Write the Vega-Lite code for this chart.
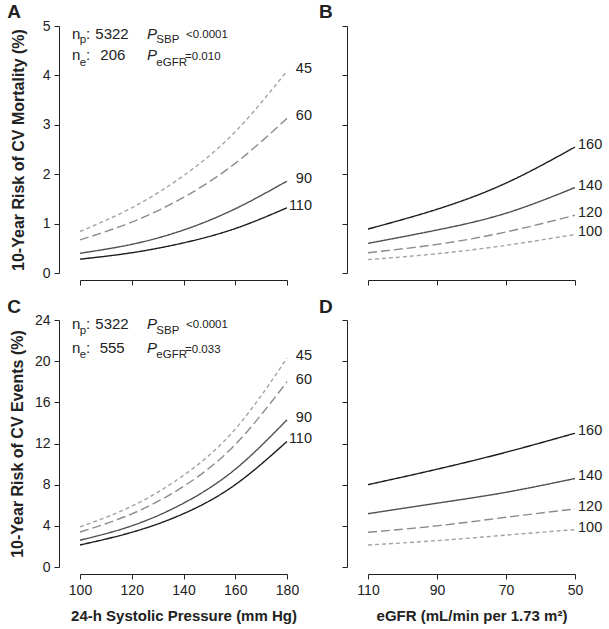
{
  "$schema": "https://vega.github.io/schema/vega-lite/v6.json",
  "padding": {"left": 7, "top": 2, "right": 4, "bottom": 2},
  "background": "white",
  "config": {
    "view": {"stroke": null},
    "font": "Liberation Sans",
    "axis": {
      "grid": false,
      "labelFlush": false,
      "labelOverlap": false,
      "domainColor": "#222222",
      "tickColor": "#222222",
      "labelColor": "#222222",
      "titleColor": "#222222",
      "labelFont": "Liberation Sans",
      "titleFont": "Liberation Sans",
      "labelFontSize": 14,
      "titleFontSize": 16,
      "titleFontWeight": "bold",
      "tickSize": 5,
      "labelPadding": 4,
      "domainWidth": 1,
      "tickWidth": 1
    },
    "text": {"font": "Liberation Sans", "color": "#222222"}
  },
  "datasets": {
    "curves": [
      {"panel": "A", "series": "45", "x": 100, "y": 0.84},
      {"panel": "A", "series": "45", "x": 120, "y": 1.32},
      {"panel": "A", "series": "45", "x": 140, "y": 1.97},
      {"panel": "A", "series": "45", "x": 160, "y": 2.86},
      {"panel": "A", "series": "45", "x": 180, "y": 4.09},
      {"panel": "A", "series": "60", "x": 100, "y": 0.67},
      {"panel": "A", "series": "60", "x": 120, "y": 1.03},
      {"panel": "A", "series": "60", "x": 140, "y": 1.53},
      {"panel": "A", "series": "60", "x": 160, "y": 2.22},
      {"panel": "A", "series": "60", "x": 180, "y": 3.13},
      {"panel": "A", "series": "90", "x": 100, "y": 0.40},
      {"panel": "A", "series": "90", "x": 120, "y": 0.58},
      {"panel": "A", "series": "90", "x": 140, "y": 0.87},
      {"panel": "A", "series": "90", "x": 160, "y": 1.30},
      {"panel": "A", "series": "90", "x": 180, "y": 1.86},
      {"panel": "A", "series": "110", "x": 100, "y": 0.28},
      {"panel": "A", "series": "110", "x": 120, "y": 0.41},
      {"panel": "A", "series": "110", "x": 140, "y": 0.61},
      {"panel": "A", "series": "110", "x": 160, "y": 0.90},
      {"panel": "A", "series": "110", "x": 180, "y": 1.32},
      {"panel": "B", "series": "160", "x": 110, "y": 0.89},
      {"panel": "B", "series": "160", "x": 90, "y": 1.29},
      {"panel": "B", "series": "160", "x": 70, "y": 1.82},
      {"panel": "B", "series": "160", "x": 50, "y": 2.55},
      {"panel": "B", "series": "140", "x": 110, "y": 0.60},
      {"panel": "B", "series": "140", "x": 90, "y": 0.87},
      {"panel": "B", "series": "140", "x": 70, "y": 1.21},
      {"panel": "B", "series": "140", "x": 50, "y": 1.73},
      {"panel": "B", "series": "120", "x": 110, "y": 0.41},
      {"panel": "B", "series": "120", "x": 90, "y": 0.58},
      {"panel": "B", "series": "120", "x": 70, "y": 0.83},
      {"panel": "B", "series": "120", "x": 50, "y": 1.17},
      {"panel": "B", "series": "100", "x": 110, "y": 0.27},
      {"panel": "B", "series": "100", "x": 90, "y": 0.39},
      {"panel": "B", "series": "100", "x": 70, "y": 0.56},
      {"panel": "B", "series": "100", "x": 50, "y": 0.78},
      {"panel": "C", "series": "45", "x": 100, "y": 3.9},
      {"panel": "C", "series": "45", "x": 120, "y": 5.9},
      {"panel": "C", "series": "45", "x": 140, "y": 8.9},
      {"panel": "C", "series": "45", "x": 160, "y": 13.4},
      {"panel": "C", "series": "45", "x": 180, "y": 20.3},
      {"panel": "C", "series": "60", "x": 100, "y": 3.4},
      {"panel": "C", "series": "60", "x": 120, "y": 5.16},
      {"panel": "C", "series": "60", "x": 140, "y": 7.83},
      {"panel": "C", "series": "60", "x": 160, "y": 11.9},
      {"panel": "C", "series": "60", "x": 180, "y": 18.0},
      {"panel": "C", "series": "90", "x": 100, "y": 2.6},
      {"panel": "C", "series": "90", "x": 120, "y": 4.0},
      {"panel": "C", "series": "90", "x": 140, "y": 6.2},
      {"panel": "C", "series": "90", "x": 160, "y": 9.5},
      {"panel": "C", "series": "90", "x": 180, "y": 14.3},
      {"panel": "C", "series": "110", "x": 100, "y": 2.14},
      {"panel": "C", "series": "110", "x": 120, "y": 3.37},
      {"panel": "C", "series": "110", "x": 140, "y": 5.18},
      {"panel": "C", "series": "110", "x": 160, "y": 8.0},
      {"panel": "C", "series": "110", "x": 180, "y": 12.2},
      {"panel": "D", "series": "160", "x": 110, "y": 8.0},
      {"panel": "D", "series": "160", "x": 90, "y": 9.5},
      {"panel": "D", "series": "160", "x": 70, "y": 11.15},
      {"panel": "D", "series": "160", "x": 50, "y": 13.0},
      {"panel": "D", "series": "140", "x": 110, "y": 5.18},
      {"panel": "D", "series": "140", "x": 90, "y": 6.2},
      {"panel": "D", "series": "140", "x": 70, "y": 7.26},
      {"panel": "D", "series": "140", "x": 50, "y": 8.6},
      {"panel": "D", "series": "120", "x": 110, "y": 3.37},
      {"panel": "D", "series": "120", "x": 90, "y": 4.0},
      {"panel": "D", "series": "120", "x": 70, "y": 4.83},
      {"panel": "D", "series": "120", "x": 50, "y": 5.64},
      {"panel": "D", "series": "100", "x": 110, "y": 2.14},
      {"panel": "D", "series": "100", "x": 90, "y": 2.56},
      {"panel": "D", "series": "100", "x": 70, "y": 3.1},
      {"panel": "D", "series": "100", "x": 50, "y": 3.63}
    ],
    "notes": [
      {"panel": "A", "kind": "main", "x": 96.91, "y": 4.743, "text": "n"},
      {"panel": "A", "kind": "small", "x": 99.88, "y": 4.646, "text": "p"},
      {"panel": "A", "kind": "main", "x": 102.32, "y": 4.743, "text": ":"},
      {"panel": "A", "kind": "main", "x": 105.91, "y": 4.743, "text": "5322"},
      {"panel": "A", "kind": "italic", "x": 125.89, "y": 4.743, "text": "P"},
      {"panel": "A", "kind": "small", "x": 129.49, "y": 4.646, "text": "SBP"},
      {"panel": "A", "kind": "small", "x": 140.97, "y": 4.767, "text": "<0.0001"},
      {"panel": "A", "kind": "main", "x": 96.91, "y": 4.306, "text": "n"},
      {"panel": "A", "kind": "small", "x": 99.88, "y": 4.2, "text": "e"},
      {"panel": "A", "kind": "main", "x": 102.32, "y": 4.306, "text": ":"},
      {"panel": "A", "kind": "main", "x": 107.85, "y": 4.306, "text": "206"},
      {"panel": "A", "kind": "italic", "x": 125.89, "y": 4.306, "text": "P"},
      {"panel": "A", "kind": "small", "x": 129.49, "y": 4.2, "text": "eGFR"},
      {"panel": "A", "kind": "small", "x": 140.6, "y": 4.306, "text": "=0.010"},
      {"panel": "C", "kind": "main", "x": 96.91, "y": 23.1, "text": "n"},
      {"panel": "C", "kind": "small", "x": 99.88, "y": 22.64, "text": "p"},
      {"panel": "C", "kind": "main", "x": 102.32, "y": 23.1, "text": ":"},
      {"panel": "C", "kind": "main", "x": 105.91, "y": 23.1, "text": "5322"},
      {"panel": "C", "kind": "italic", "x": 125.89, "y": 23.1, "text": "P"},
      {"panel": "C", "kind": "small", "x": 129.49, "y": 22.64, "text": "SBP"},
      {"panel": "C", "kind": "small", "x": 140.97, "y": 23.2, "text": "<0.0001"},
      {"panel": "C", "kind": "main", "x": 96.91, "y": 20.79, "text": "n"},
      {"panel": "C", "kind": "small", "x": 99.88, "y": 20.31, "text": "e"},
      {"panel": "C", "kind": "main", "x": 102.32, "y": 20.79, "text": ":"},
      {"panel": "C", "kind": "main", "x": 107.6, "y": 20.79, "text": "555"},
      {"panel": "C", "kind": "italic", "x": 125.89, "y": 20.79, "text": "P"},
      {"panel": "C", "kind": "small", "x": 129.49, "y": 20.31, "text": "eGFR"},
      {"panel": "C", "kind": "small", "x": 140.6, "y": 20.79, "text": "=0.033"}
    ],
    "letters": [
      {"panel": "A", "x": 71.9, "y": 5.168, "text": "A"},
      {"panel": "B", "x": 124.2, "y": 5.168, "text": "B"},
      {"panel": "C", "x": 71.9, "y": 24.71, "text": "C"},
      {"panel": "D", "x": 124.2, "y": 24.71, "text": "D"}
    ]
  },
  "columns": 2,
  "bounds": "flush",
  "spacing": {"row": 47, "column": 81},
  "concat": [
    {
      "width": 207,
      "height": 247,
      "encoding": {
        "x": {"field": "x", "type": "quantitative", "scale": {"domain": [100, 180], "nice": false, "zero": false}, "axis": {"values": [100, 120, 140, 160, 180], "labels": false, "title": null, "offset": 7}},
        "y": {"field": "y", "type": "quantitative", "scale": {"domain": [0, 5], "nice": false, "zero": false}, "axis": {"values": [0, 1, 2, 3, 4, 5], "title": "10-Year Risk of CV Mortality (%)", "offset": 21, "titlePadding": 16}}
      },
      "layer": [
        {
          "data": {"name": "curves"},
          "transform": [{"filter": "datum.panel == 'A'"}],
          "mark": {"type": "line", "interpolate": "natural", "strokeWidth": 1.4},
          "encoding": {
            "detail": {"field": "series", "type": "nominal"},
            "color": {"field": "series", "type": "nominal", "legend": null, "scale": {"domain": ["45", "60", "90", "110", "100", "120", "140", "160"], "range": ["#a3a3a3", "#8c8c8c", "#505050", "#1c1c1c", "#a3a3a3", "#8c8c8c", "#505050", "#1c1c1c"]}},
            "strokeDash": {"field": "series", "type": "nominal", "legend": null, "scale": {"domain": ["45", "60", "90", "110", "100", "120", "140", "160"], "range": [[4, 3], [9, 4], [1, 0], [1, 0], [4, 3], [9, 4], [1, 0], [1, 0]]}}
          }
        },
        {
          "data": {"name": "curves"},
          "transform": [{"filter": "datum.panel == 'A' && datum.x == 180"}],
          "mark": {"type": "text", "align": "right", "baseline": "middle", "dx": 25, "dy": -2, "fontSize": 14.5},
          "encoding": {"text": {"field": "series"}}
        },
        {
          "data": {"name": "notes"},
          "transform": [{"filter": "datum.panel == 'A' && datum.kind == 'main'"}],
          "mark": {"type": "text", "align": "left", "baseline": "alphabetic", "fontSize": 15},
          "encoding": {"text": {"field": "text"}}
        },
        {
          "data": {"name": "notes"},
          "transform": [{"filter": "datum.panel == 'A' && datum.kind == 'italic'"}],
          "mark": {"type": "text", "align": "left", "baseline": "alphabetic", "fontSize": 15, "fontStyle": "italic"},
          "encoding": {"text": {"field": "text"}}
        },
        {
          "data": {"name": "notes"},
          "transform": [{"filter": "datum.panel == 'A' && datum.kind == 'small'"}],
          "mark": {"type": "text", "align": "left", "baseline": "alphabetic", "fontSize": 11.5},
          "encoding": {"text": {"field": "text"}}
        },
        {
          "data": {"name": "letters"},
          "transform": [{"filter": "datum.panel == 'A'"}],
          "mark": {"type": "text", "align": "left", "baseline": "alphabetic", "fontSize": 19, "fontWeight": "bold"},
          "encoding": {"text": {"field": "text"}}
        }
      ]
    },
    {
      "width": 207,
      "height": 247,
      "encoding": {
        "x": {"field": "x", "type": "quantitative", "scale": {"domain": [50, 110], "nice": false, "zero": false, "reverse": true}, "axis": {"values": [50, 70, 90, 110], "labels": false, "title": null, "offset": 7}},
        "y": {"field": "y", "type": "quantitative", "scale": {"domain": [0, 5], "nice": false, "zero": false}, "axis": {"values": [0, 1, 2, 3, 4, 5], "labels": false, "title": null, "offset": 21}}
      },
      "layer": [
        {
          "data": {"name": "curves"},
          "transform": [{"filter": "datum.panel == 'B'"}],
          "mark": {"type": "line", "interpolate": "natural", "strokeWidth": 1.4},
          "encoding": {
            "detail": {"field": "series", "type": "nominal"},
            "color": {"field": "series", "type": "nominal", "legend": null, "scale": {"domain": ["45", "60", "90", "110", "100", "120", "140", "160"], "range": ["#a3a3a3", "#8c8c8c", "#505050", "#1c1c1c", "#a3a3a3", "#8c8c8c", "#505050", "#1c1c1c"]}},
            "strokeDash": {"field": "series", "type": "nominal", "legend": null, "scale": {"domain": ["45", "60", "90", "110", "100", "120", "140", "160"], "range": [[4, 3], [9, 4], [1, 0], [1, 0], [4, 3], [9, 4], [1, 0], [1, 0]]}}
          }
        },
        {
          "data": {"name": "curves"},
          "transform": [{"filter": "datum.panel == 'B' && datum.x == 50"}],
          "mark": {"type": "text", "align": "left", "baseline": "middle", "dx": 3, "dy": -2, "fontSize": 14.5},
          "encoding": {"text": {"field": "series"}}
        },
        {
          "data": {"name": "letters"},
          "transform": [{"filter": "datum.panel == 'B'"}],
          "mark": {"type": "text", "align": "left", "baseline": "alphabetic", "fontSize": 19, "fontWeight": "bold"},
          "encoding": {"text": {"field": "text"}}
        }
      ]
    },
    {
      "width": 207,
      "height": 247,
      "encoding": {
        "x": {"field": "x", "type": "quantitative", "scale": {"domain": [100, 180], "nice": false, "zero": false}, "axis": {"values": [100, 120, 140, 160, 180], "title": "24-h Systolic Pressure (mm Hg)", "titleFontSize": 15, "offset": 7, "titlePadding": 11}},
        "y": {"field": "y", "type": "quantitative", "scale": {"domain": [0, 24], "nice": false, "zero": false}, "axis": {"values": [0, 4, 8, 12, 16, 20, 24], "title": "10-Year Risk of CV Events (%)", "offset": 21, "titlePadding": 9}}
      },
      "layer": [
        {
          "data": {"name": "curves"},
          "transform": [{"filter": "datum.panel == 'C'"}],
          "mark": {"type": "line", "interpolate": "natural", "strokeWidth": 1.4},
          "encoding": {
            "detail": {"field": "series", "type": "nominal"},
            "color": {"field": "series", "type": "nominal", "legend": null, "scale": {"domain": ["45", "60", "90", "110", "100", "120", "140", "160"], "range": ["#a3a3a3", "#8c8c8c", "#505050", "#1c1c1c", "#a3a3a3", "#8c8c8c", "#505050", "#1c1c1c"]}},
            "strokeDash": {"field": "series", "type": "nominal", "legend": null, "scale": {"domain": ["45", "60", "90", "110", "100", "120", "140", "160"], "range": [[4, 3], [9, 4], [1, 0], [1, 0], [4, 3], [9, 4], [1, 0], [1, 0]]}}
          }
        },
        {
          "data": {"name": "curves"},
          "transform": [{"filter": "datum.panel == 'C' && datum.x == 180"}],
          "mark": {"type": "text", "align": "right", "baseline": "middle", "dx": 25, "dy": -2, "fontSize": 14.5},
          "encoding": {"text": {"field": "series"}}
        },
        {
          "data": {"name": "notes"},
          "transform": [{"filter": "datum.panel == 'C' && datum.kind == 'main'"}],
          "mark": {"type": "text", "align": "left", "baseline": "alphabetic", "fontSize": 15},
          "encoding": {"text": {"field": "text"}}
        },
        {
          "data": {"name": "notes"},
          "transform": [{"filter": "datum.panel == 'C' && datum.kind == 'italic'"}],
          "mark": {"type": "text", "align": "left", "baseline": "alphabetic", "fontSize": 15, "fontStyle": "italic"},
          "encoding": {"text": {"field": "text"}}
        },
        {
          "data": {"name": "notes"},
          "transform": [{"filter": "datum.panel == 'C' && datum.kind == 'small'"}],
          "mark": {"type": "text", "align": "left", "baseline": "alphabetic", "fontSize": 11.5},
          "encoding": {"text": {"field": "text"}}
        },
        {
          "data": {"name": "letters"},
          "transform": [{"filter": "datum.panel == 'C'"}],
          "mark": {"type": "text", "align": "left", "baseline": "alphabetic", "fontSize": 19, "fontWeight": "bold"},
          "encoding": {"text": {"field": "text"}}
        }
      ]
    },
    {
      "width": 207,
      "height": 247,
      "encoding": {
        "x": {"field": "x", "type": "quantitative", "scale": {"domain": [50, 110], "nice": false, "zero": false, "reverse": true}, "axis": {"values": [50, 70, 90, 110], "title": "eGFR (mL/min per 1.73 m²)", "titleFontSize": 15, "offset": 7, "titlePadding": 11}},
        "y": {"field": "y", "type": "quantitative", "scale": {"domain": [0, 24], "nice": false, "zero": false}, "axis": {"values": [0, 4, 8, 12, 16, 20, 24], "labels": false, "title": null, "offset": 21}}
      },
      "layer": [
        {
          "data": {"name": "curves"},
          "transform": [{"filter": "datum.panel == 'D'"}],
          "mark": {"type": "line", "interpolate": "natural", "strokeWidth": 1.4},
          "encoding": {
            "detail": {"field": "series", "type": "nominal"},
            "color": {"field": "series", "type": "nominal", "legend": null, "scale": {"domain": ["45", "60", "90", "110", "100", "120", "140", "160"], "range": ["#a3a3a3", "#8c8c8c", "#505050", "#1c1c1c", "#a3a3a3", "#8c8c8c", "#505050", "#1c1c1c"]}},
            "strokeDash": {"field": "series", "type": "nominal", "legend": null, "scale": {"domain": ["45", "60", "90", "110", "100", "120", "140", "160"], "range": [[4, 3], [9, 4], [1, 0], [1, 0], [4, 3], [9, 4], [1, 0], [1, 0]]}}
          }
        },
        {
          "data": {"name": "curves"},
          "transform": [{"filter": "datum.panel == 'D' && datum.x == 50"}],
          "mark": {"type": "text", "align": "left", "baseline": "middle", "dx": 3, "dy": -2, "fontSize": 14.5},
          "encoding": {"text": {"field": "series"}}
        },
        {
          "data": {"name": "letters"},
          "transform": [{"filter": "datum.panel == 'D'"}],
          "mark": {"type": "text", "align": "left", "baseline": "alphabetic", "fontSize": 19, "fontWeight": "bold"},
          "encoding": {"text": {"field": "text"}}
        }
      ]
    }
  ]
}
